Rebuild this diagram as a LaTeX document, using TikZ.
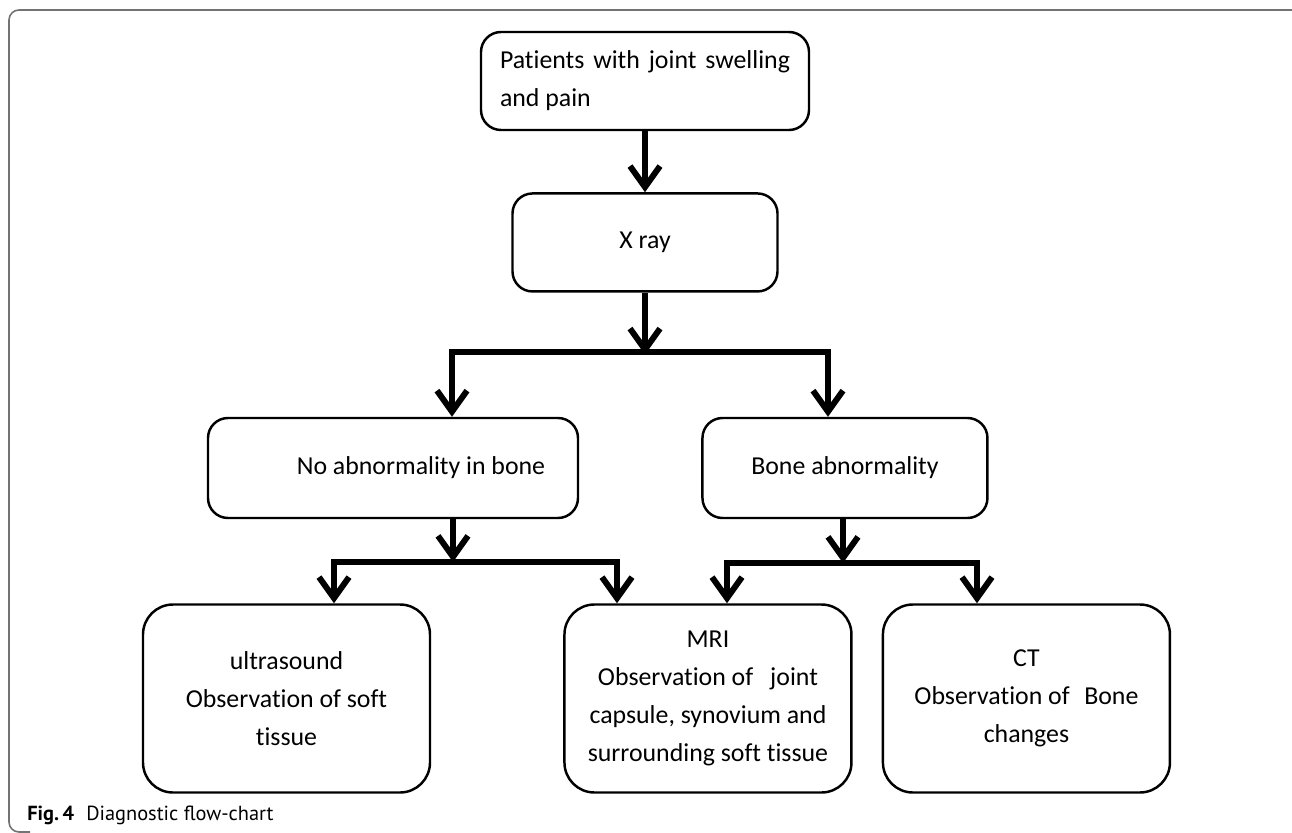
\documentclass[tikz,border=0pt]{standalone}
\usepackage{fontspec}
\setmainfont{Carlito}[Ligatures=NoCommon]
\newfontfamily\capfont{PT Sans}
\usetikzlibrary{arrows.meta, positioning, calc}

\begin{document}
\begin{tikzpicture}[
  >={Straight Barb[length=0.42cm, width=0.6cm, sharp]},
  stepbox/.style={draw, rounded corners=0.4cm, line width=1.4pt, fill=white, minimum height=1.96cm, font=\fontsize{14.7}{21.5}\selectfont, align=center},
  outbox/.style={draw, rounded corners=0.6cm, line width=1.4pt, fill=white, minimum width=5.74cm, minimum height=3.76cm, font=\fontsize{14.7}{21.5}\selectfont, align=center},
  flow/.style={->, line width=3.4pt, black},
  branch/.style={line width=3.8pt, black, line cap=rect},
  frameline/.style={draw=black!55, line width=0.9pt, rounded corners=0.2cm}
]
\useasboundingbox (0,0) rectangle (25.84,-16.66);

% page frame (top and left only)
\draw[frameline] (26.2,-0.2) -- (0.18,-0.2) -- (0.18,-16.64) -- (0.6,-16.64);

% first levels
\node[stepbox, minimum width=6.56cm, text width=5.8cm, align=justify] (Top) at (12.9,-1.62)
  {Patients with joint swelling\linebreak and pain};
\node[stepbox, minimum width=5.3cm] (Xray) [below=1.22cm of Top] {X ray};

% findings
\node[stepbox, minimum width=7.4cm, minimum height=2cm] (NoAb) at (7.86,-9.36) {\hspace*{1.12cm}No abnormality in bone};
\node[stepbox, minimum width=5.7cm, minimum height=2cm] (BoneAb) [right=2.44cm of NoAb] {Bone abnormality};

% examinations
\node[outbox] (US) at (5.73,-13.97) {ultrasound\\Observation of soft\\tissue};
\node[outbox] (MRI) [right=2.64cm of US] {MRI\\\makebox[4.4cm]{Observation of\hfill joint}\\capsule, synovium and\\surrounding soft tissue};
\node[outbox] (CT) [right=0.58cm of MRI] {CT\\\makebox[4.48cm]{Observation of\hfill Bone}\\changes};

% branch points
\coordinate (J1)  at ($(Xray.south)+(0,-1.24)$);
\coordinate (J1L) at (9.04,-7.04);
\coordinate (J1R) at (16.56,-7.04);
\coordinate (J2)  at (9.06,-11.24);
\coordinate (J2L) at (6.68,-11.24);
\coordinate (J2R) at (12.34,-11.24);
\coordinate (J3)  at (16.86,-11.26);
\coordinate (J3L) at (14.54,-11.26);
\coordinate (J3R) at (19.54,-11.26);

% flows
\draw[flow] (Top) -- (Xray);
\draw[flow] (Xray) -- (J1);
\draw[branch] (J1L) -- (J1R);
\draw[flow] (J1L) -- (J1L |- NoAb.north);
\draw[flow] (J1R) -- (J1R |- BoneAb.north);

\draw[flow] (J2 |- NoAb.south) -- (J2);
\draw[branch] (J2L) -- (J2R);
\draw[flow] (J2L) -- (J2L |- US.north);
\draw[flow] (J2R) -- (J2R |- MRI.north);

\draw[flow] (J3 |- BoneAb.south) -- (J3);
\draw[branch] (J3L) -- (J3R);
\draw[flow] (J3L) -- (J3L |- MRI.north);
\draw[flow] (J3R) -- (J3R |- CT.north);

% caption
\node[anchor=base west, inner sep=0pt, font=\capfont\fontsize{11.6}{14}\selectfont] (Cap) at (0.54,-16.4)
  {\textbf{Fig.\,4}\hspace{0.6em}Diagnostic flow-chart};
\end{tikzpicture}
\end{document}
